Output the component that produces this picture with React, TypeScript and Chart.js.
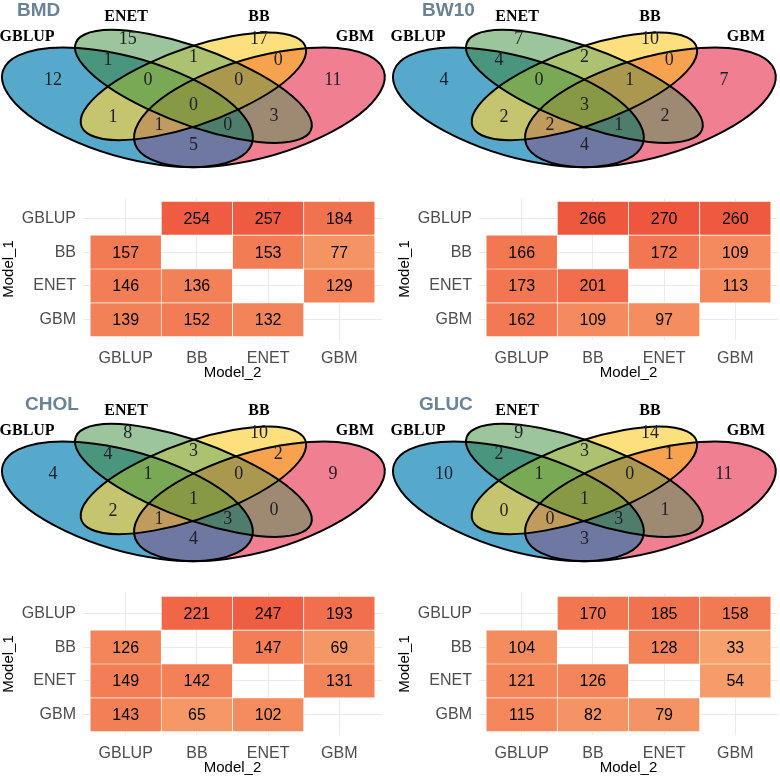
import React, { useEffect, useRef } from "react";
import { Chart, registerables } from "chart.js";
Chart.register(...registerables);

// ---------- DATA ----------
const TRAITS = ["BMD", "BW10", "CHOL", "GLUC"];
const MODELS = ["GBLUP", "BB", "ENET", "GBM"]; // heatmap rows / columns
const SET_NAMES = ["GBLUP", "ENET", "BB", "GBM"]; // venn sets

// Venn regions (intersections of sets)
const REGION_KEYS = [
  "GBLUP", "ENET", "BB", "GBM",
  "GBLUP&ENET", "ENET&BB", "BB&GBM",
  "GBLUP&ENET&BB", "ENET&BB&GBM", "GBLUP&ENET&BB&GBM",
  "GBLUP&BB", "ENET&GBM", "GBLUP&BB&GBM", "GBLUP&ENET&GBM", "GBLUP&GBM",
];
const VENN_BMD = [12, 15, 17, 11, 1, 1, 0, 0, 0, 0, 1, 3, 1, 0, 5];
const VENN_BW10 = [4, 7, 10, 7, 4, 2, 0, 0, 1, 3, 2, 2, 2, 1, 4];
const VENN_CHOL = [4, 8, 10, 9, 4, 3, 2, 1, 0, 1, 2, 0, 1, 3, 4];
const VENN_GLUC = [10, 9, 14, 11, 2, 3, 1, 1, 0, 1, 0, 1, 0, 3, 3];

// Heatmap values: rows = Model_1, columns = Model_2 (null on diagonal)
const HEAT_BMD = [
  [null, 254, 257, 184],
  [157, null, 153, 77],
  [146, 136, null, 129],
  [139, 152, 132, null],
];
const HEAT_BW10 = [
  [null, 266, 270, 260],
  [166, null, 172, 109],
  [173, 201, null, 113],
  [162, 109, 97, null],
];
const HEAT_CHOL = [
  [null, 221, 247, 193],
  [126, null, 147, 69],
  [149, 142, null, 131],
  [143, 65, 102, null],
];
const HEAT_GLUC = [
  [null, 170, 185, 158],
  [104, null, 128, 33],
  [121, 126, null, 54],
  [115, 82, 79, null],
];

// ---------- STYLE / LAYOUT ----------
const SANS = '"Liberation Sans", Arial, Helvetica, sans-serif';
const SERIF = '"Liberation Serif", "Times New Roman", serif';
Chart.defaults.font.family = SANS;

// ellipse geometry in venn unit space: cx, cy, semi-major, semi-minor, angle(deg)
const ELLIPSES = [
  [0.35, 0.47, 0.35, 0.2, 135],
  [0.5, 0.57, 0.35, 0.15, 135],
  [0.5, 0.57, 0.33, 0.15, 45],
  [0.65, 0.47, 0.35, 0.2, 45],
];
const REGION_POS = [
  [0.181, 0.6], [0.351, 0.796], [0.649, 0.796], [0.817, 0.6],
  [0.306, 0.696], [0.5, 0.71], [0.693, 0.696],
  [0.397, 0.6], [0.603, 0.6], [0.5, 0.481],
  [0.317, 0.424], [0.683, 0.428], [0.422, 0.386], [0.578, 0.386], [0.5, 0.29],
];
const REGION_COLORS: Record<string, string> = {
  "GBLUP": "#57A9CC",
  "ENET": "#9CC59B",
  "BB": "#FDE07E",
  "GBM": "#F07F91",
  "GBLUP&ENET": "#4A957E",
  "ENET&BB": "#ABC271",
  "BB&GBM": "#F6A24E",
  "GBLUP&ENET&BB": "#7AA955",
  "ENET&BB&GBM": "#A9984D",
  "GBLUP&ENET&BB&GBM": "#879944",
  "GBLUP&BB": "#C6C56F",
  "ENET&GBM": "#9E8A73",
  "GBLUP&BB&GBM": "#C09B5E",
  "GBLUP&ENET&GBM": "#4F7D6B",
  "GBLUP&GBM": "#6E78A0",
};
const SET_LABEL_POS = [[0.122, 0.806], [0.347, 0.901], [0.649, 0.901], [0.867, 0.806]];

const PANELS = [
  { trait: TRAITS[0], venn: VENN_BMD, heat: HEAT_BMD, vx: 0, vy: 0, hx: 0, hy: 175, titleX: 17 },
  { trait: TRAITS[1], venn: VENN_BW10, heat: HEAT_BW10, vx: 391, vy: 0, hx: 396, hy: 175, titleX: 31 },
  { trait: TRAITS[2], venn: VENN_CHOL, heat: HEAT_CHOL, vx: 0, vy: 394, hx: 0, hy: 570, titleX: 25 },
  { trait: TRAITS[3], venn: VENN_GLUC, heat: HEAT_GLUC, vx: 391, vy: 394, hx: 396, hy: 570, titleX: 28 },
];

const HEAT_LOW = [248, 173, 114]; // at 0
const HEAT_HIGH = [237, 77, 56]; // at 300
function heatColor(v: number) {
  const t = Math.max(0, Math.min(1, v / 300));
  const c = HEAT_LOW.map((lo, i) => Math.round(lo + (HEAT_HIGH[i] - lo) * t));
  return `rgb(${c[0]},${c[1]},${c[2]})`;
}

function maskOf(key: string) {
  return key.split("&").reduce((m, n) => m | (1 << SET_NAMES.indexOf(n)), 0);
}

// ---------- VENN ----------
const vennPlugin = {
  id: "vennDraw",
  beforeDatasetsDraw(chart: any) {
    const { ctx, scales, width, height } = chart;
    const xs = scales.x, ys = scales.y;
    const sx = xs.getPixelForValue(1) - xs.getPixelForValue(0);
    const sy = ys.getPixelForValue(1) - ys.getPixelForValue(0);
    const addEllipse = (i: number) => {
      const [cx, cy, a, b, ang] = ELLIPSES[i];
      const m = ctx.getTransform();
      ctx.translate(xs.getPixelForValue(cx), ys.getPixelForValue(cy));
      ctx.scale(sx, sy);
      ctx.rotate((ang * Math.PI) / 180);
      ctx.moveTo(a, 0);
      ctx.ellipse(0, 0, a, b, 0, 0, Math.PI * 2);
      ctx.setTransform(m);
    };
    REGION_KEYS.forEach((key) => {
      const mask = maskOf(key);
      ctx.save();
      for (let s = 0; s < 4; s++) {
        ctx.beginPath();
        if (mask & (1 << s)) {
          addEllipse(s);
          ctx.clip();
        } else {
          ctx.rect(-10, -10, width + 20, height + 20);
          addEllipse(s);
          ctx.clip("evenodd");
        }
      }
      ctx.fillStyle = REGION_COLORS[key];
      ctx.fillRect(0, 0, width, height);
      ctx.restore();
    });
    ctx.save();
    ctx.strokeStyle = "#000";
    ctx.lineWidth = 2;
    for (let s = 0; s < 4; s++) {
      ctx.beginPath();
      addEllipse(s);
      ctx.stroke();
    }
    ctx.restore();
  },
  afterDatasetsDraw(chart: any) {
    const { ctx } = chart;
    ctx.save();
    ctx.textAlign = "center";
    ctx.textBaseline = "middle";
    const regMeta = chart.getDatasetMeta(0);
    ctx.font = `18px ${SERIF}`;
    ctx.fillStyle = "#1E1E28";
    regMeta.data.forEach((el: any, i: number) => {
      const raw = chart.data.datasets[0].data[i];
      ctx.fillText(String(raw.count), el.x, el.y);
    });
    const setMeta = chart.getDatasetMeta(1);
    ctx.font = `bold 16px ${SERIF}`;
    ctx.fillStyle = "#000";
    setMeta.data.forEach((el: any, i: number) => {
      const raw = chart.data.datasets[1].data[i];
      ctx.fillText(raw.name, el.x, el.y);
    });
    const opts = chart.options.plugins.vennDraw;
    ctx.textAlign = "left";
    ctx.textBaseline = "alphabetic";
    ctx.font = `bold 19px ${SANS}`;
    ctx.fillStyle = "#6A8396";
    ctx.fillText(opts.title, opts.titleX, 16);
    ctx.restore();
  },
};

const cellTextPlugin = {
  id: "cellText",
  afterDatasetsDraw(chart: any) {
    const { ctx } = chart;
    ctx.save();
    ctx.font = `16px ${SANS}`;
    ctx.fillStyle = "#000";
    ctx.textAlign = "center";
    ctx.textBaseline = "middle";
    chart.data.datasets.forEach((ds: any, di: number) => {
      const meta = chart.getDatasetMeta(di);
      meta.data.forEach((el: any, i: number) => {
        const p = el.getProps(["x", "y", "base"], true);
        ctx.fillText(String(ds.data[i].v), p.x, (p.y + p.base) / 2 + 1);
      });
    });
    ctx.restore();
  },
};

function Panel({ p }: { p: (typeof PANELS)[number] }) {
  const vennRef = useRef<HTMLCanvasElement>(null);
  const heatRef = useRef<HTMLCanvasElement>(null);
  useEffect(() => {
    const venn = new Chart(vennRef.current!, {
      type: "scatter",
      data: {
        datasets: [
          {
            data: REGION_POS.map((pos, i) => ({ x: pos[0], y: pos[1], count: p.venn[i] })) as any,
            pointRadius: 0,
          },
          {
            data: SET_LABEL_POS.map((pos, i) => ({ x: pos[0], y: pos[1], name: SET_NAMES[i] })) as any,
            pointRadius: 0,
          },
        ],
      },
      options: {
        animation: false,
        responsive: false,
        events: [],
        layout: { padding: 0 },
        plugins: {
          legend: { display: false },
          tooltip: { enabled: false },
          vennDraw: { title: p.trait, titleX: p.titleX },
        } as any,
        scales: {
          x: { type: "linear", display: false, min: 0.06045, max: 0.94682 },
          y: { type: "linear", display: false, min: 0.12301, max: 0.9822 },
        },
      },
      plugins: [vennPlugin],
    });

    const heat = new Chart(heatRef.current!, {
      type: "bar",
      data: {
        datasets: MODELS.map((rowName, r) => ({
          label: rowName,
          data: p.heat[r]
            .map((v, c) => (v == null ? null : { x: c, y: [r - 0.5, r + 0.5], v }))
            .filter((d) => d !== null) as any,
          backgroundColor: (ctx: any) => heatColor(ctx.raw ? ctx.raw.v : 0),
          borderColor: "#FFFFFF",
          borderWidth: 0.7,
          borderSkipped: false,
          barPercentage: 1,
          categoryPercentage: 1,
          grouped: false,
        })),
      },
      options: {
        animation: false,
        responsive: false,
        events: [],
        layout: { padding: { top: 23, right: 8, left: 0, bottom: 0 } },
        plugins: { legend: { display: false }, tooltip: { enabled: false } },
        scales: {
          x: {
            type: "linear",
            min: -0.6,
            max: 3.6,
            offset: false,
            afterBuildTicks: (a: any) => {
              a.ticks = [0, 1, 2, 3].map((v) => ({ value: v }));
            },
            afterFit: (s: any) => {
              s.height = 50;
            },
            grid: { color: "#EBEBEB", lineWidth: 1, drawTicks: false, offset: false },
            border: { display: false },
            ticks: {
              callback: (v: any) => MODELS[v],
              font: { size: 16 },
              color: "#4D4D4D",
              padding: 9,
              maxRotation: 0,
              autoSkip: false,
            },
            title: {
              display: true,
              text: "Model_2",
              font: { size: 15 },
              color: "#000",
              padding: { top: 0, bottom: 8 },
            },
          },
          y: {
            type: "linear",
            reverse: true,
            min: -0.6,
            max: 3.6,
            offset: false,
            beginAtZero: false,
            afterBuildTicks: (a: any) => {
              a.ticks = [0, 1, 2, 3].map((v) => ({ value: v }));
            },
            afterFit: (s: any) => {
              s.width = 83;
            },
            grid: { color: "#EBEBEB", lineWidth: 1, drawTicks: false, offset: false },
            border: { display: false },
            ticks: {
              callback: (v: any) => MODELS[v],
              font: { size: 16 },
              color: "#4D4D4D",
              padding: 7,
              autoSkip: false,
            },
            title: {
              display: true,
              text: "Model_1",
              font: { size: 15 },
              color: "#000",
              padding: { top: 0, bottom: 0 },
            },
          },
        } as any,
      },
      plugins: [cellTextPlugin],
    });
    return () => {
      venn.destroy();
      heat.destroy();
    };
  }, [p]);

  return (
    <>
      <canvas
        ref={vennRef}
        width={390}
        height={180}
        style={{ position: "absolute", left: p.vx, top: p.vy, width: 390, height: 180 }}
      />
      <canvas
        ref={heatRef}
        width={390}
        height={215}
        style={{ position: "absolute", left: p.hx, top: p.hy, width: 390, height: 215 }}
      />
    </>
  );
}

export default function App() {
  return (
    <div
      style={{
        position: "absolute",
        left: 0,
        top: 0,
        width: 780,
        height: 776,
        overflow: "hidden",
        background: "#FFFFFF",
      }}
    >
      {PANELS.map((p) => (
        <Panel key={p.trait} p={p} />
      ))}
    </div>
  );
}
